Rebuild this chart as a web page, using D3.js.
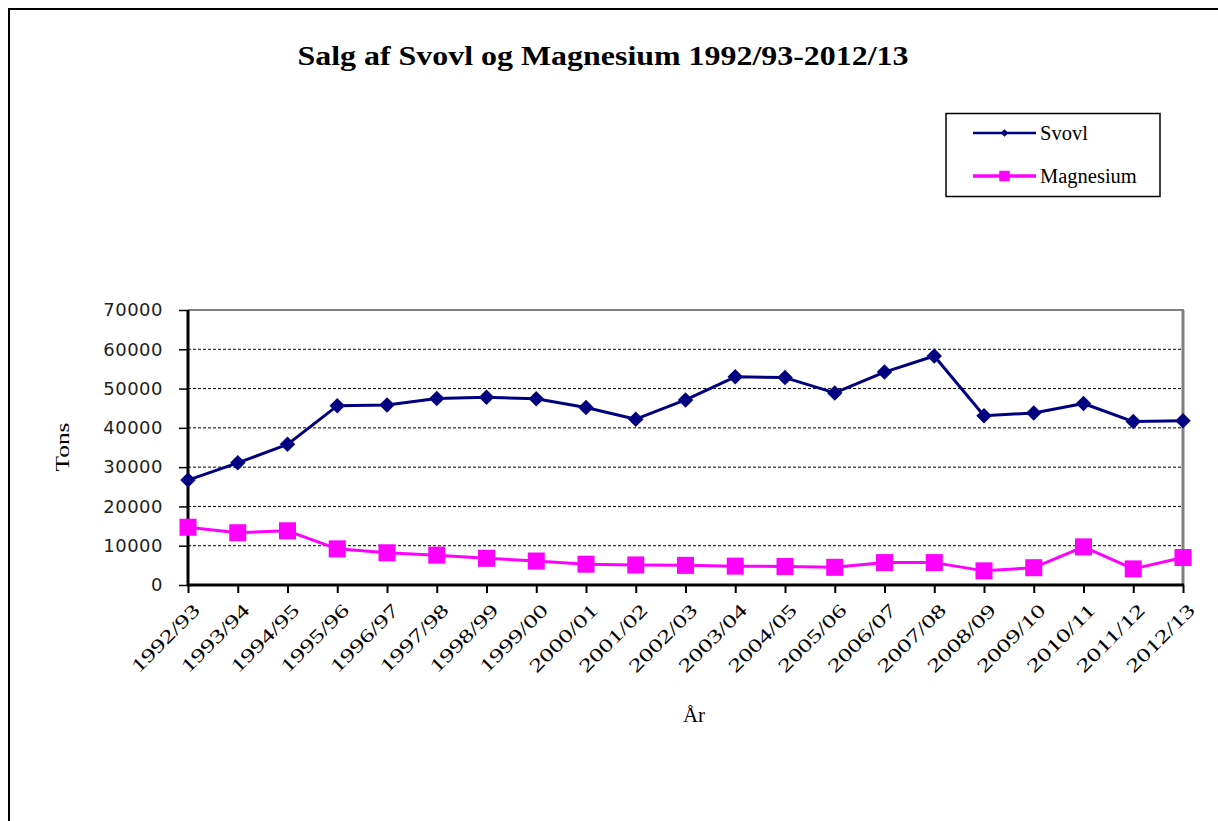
<!DOCTYPE html>
<html><head><meta charset="utf-8">
<script src="https://cdn.jsdelivr.net/npm/d3@7"></script>
<style>body{margin:0;background:#fff}svg{display:block}</style>
</head><body>
<script>
const categories = ["1992/93","1993/94","1994/95","1995/96","1996/97","1997/98","1998/99","1999/00","2000/01","2001/02","2002/03","2003/04","2004/05","2005/06","2006/07","2007/08","2008/09","2009/10","2010/11","2011/12","2012/13"];
const svovl = [26700,31100,35800,45600,45800,47500,47800,47400,45200,42200,47100,53000,52800,48900,54200,58300,43100,43800,46200,41600,41800];
const magnesium = [14700,13300,13800,9200,8200,7600,6800,6100,5300,5100,5000,4800,4700,4500,5700,5700,3600,4400,9700,4100,7000];
const yTicks = [0,10000,20000,30000,40000,50000,60000,70000];
const title = "Salg af Svovl og Magnesium 1992/93-2012/13";
const series = [
  {name:"Svovl", values:svovl, color:"#000080", marker:"diamond"},
  {name:"Magnesium", values:magnesium, color:"#FF00FF", marker:"square"}
];

const W=1218,H=821;
const svg=d3.select("body").append("svg").attr("width",W).attr("height",H);
svg.append("rect").attr("width",W).attr("height",H).attr("fill","#fff");
svg.append("path").attr("d","M9,830 V9 H1230").attr("fill","none").attr("stroke","#000").attr("stroke-width",2);

const L=188,R=1183,T=310,B=585;
const x=d3.scalePoint().domain(categories).range([L,R]);
const y=d3.scaleLinear().domain([0,70000]).range([B,T]);

svg.append("g").selectAll("line").data(yTicks.filter(v=>v>0&&v<70000)).join("line")
  .attr("x1",L).attr("x2",R).attr("y1",d=>y(d)).attr("y2",d=>y(d))
  .attr("stroke","#000").attr("stroke-width",1).attr("stroke-dasharray","3,2");
svg.append("line").attr("x1",L).attr("x2",R+1).attr("y1",T).attr("y2",T).attr("stroke","#808080").attr("stroke-width",2);
svg.append("line").attr("x1",R).attr("x2",R).attr("y1",T).attr("y2",B).attr("stroke","#808080").attr("stroke-width",3);

const yAxis=svg.append("g").attr("transform",`translate(${L},0)`)
  .call(d3.axisLeft(y).tickValues(yTicks).tickSize(9).tickPadding(16).tickFormat(d3.format("d")));
yAxis.select(".domain").attr("stroke","#000").attr("stroke-width",3).attr("d",`M0,${T}V${B+1}`);
yAxis.selectAll(".tick line").attr("stroke","#000").attr("stroke-width",1.5);
yAxis.selectAll("text").attr("font-family","DejaVu Sans").attr("font-size",18).attr("letter-spacing","0.5px").attr("fill","#222");

const xAxis=svg.append("g").attr("transform",`translate(0,${B})`)
  .call(d3.axisBottom(x).tickSize(8).tickFormat(""));
xAxis.select(".domain").attr("stroke","#000").attr("stroke-width",3).attr("d",`M${L-1},0H${R+1}`);
xAxis.selectAll(".tick line").attr("stroke","#000").attr("stroke-width",2);
xAxis.selectAll(".tick").append("text")
  .attr("transform","translate(3,17) rotate(-45)")
  .attr("text-anchor","end").attr("dy","0.7em")
  .attr("font-family","Liberation Serif").attr("font-size",19)
  .attr("textLength",88).attr("lengthAdjust","spacingAndGlyphs")
  .attr("fill","#000").text(d=>d);

const line=d3.line().x((d,i)=>x(categories[i])).y(d=>y(d));
series.forEach(s=>{
  svg.append("path").datum(s.values).attr("d",line).attr("fill","none")
    .attr("stroke",s.color).attr("stroke-width",3).attr("stroke-linejoin","round");
  const g=svg.append("g");
  g.selectAll("path").data(s.values).join("path")
    .attr("transform",(d,i)=>`translate(${x(categories[i])},${y(d)})`+(s.marker==="diamond"?" rotate(45)":""))
    .attr("d",s.marker==="diamond"?d3.symbol(d3.symbolSquare,120)():d3.symbol(d3.symbolSquare,290)())
    .attr("fill",s.color);
});

svg.append("text").attr("x",603).attr("y",65).attr("text-anchor","middle")
  .attr("font-family","Liberation Serif").attr("font-weight","bold").attr("font-size",28)
  .attr("textLength",611).attr("lengthAdjust","spacingAndGlyphs").text(title);

svg.append("text").attr("transform","translate(69,447) rotate(-90)").attr("text-anchor","middle")
  .attr("font-family","Liberation Serif").attr("font-size",19)
  .attr("textLength",49).attr("lengthAdjust","spacingAndGlyphs").text("Tons");
svg.append("text").attr("x",694).attr("y",722).attr("text-anchor","middle")
  .attr("font-family","Liberation Serif").attr("font-size",21).text("År");

const lg=svg.append("g");
lg.append("rect").attr("x",946).attr("y",113.5).attr("width",214).attr("height",83)
  .attr("fill","#fff").attr("stroke","#000").attr("stroke-width",1.5);
series.forEach((s,i)=>{
  const ly=i===0?133:176;
  lg.append("line").attr("x1",973).attr("x2",1036).attr("y1",ly).attr("y2",ly)
    .attr("stroke",s.color).attr("stroke-width",s.marker==="diamond"?2.5:3.5);
  lg.append("path").attr("transform",`translate(1004.5,${ly})`+(s.marker==="diamond"?" rotate(45)":""))
    .attr("d",s.marker==="diamond"?d3.symbol(d3.symbolSquare,30)():d3.symbol(d3.symbolSquare,110)())
    .attr("fill",s.color);
  lg.append("text").attr("x",1040).attr("y",ly+7).attr("font-family","Liberation Serif")
    .attr("font-size",20.5).attr("fill","#000").text(s.name);
});
</script>
</body></html>
